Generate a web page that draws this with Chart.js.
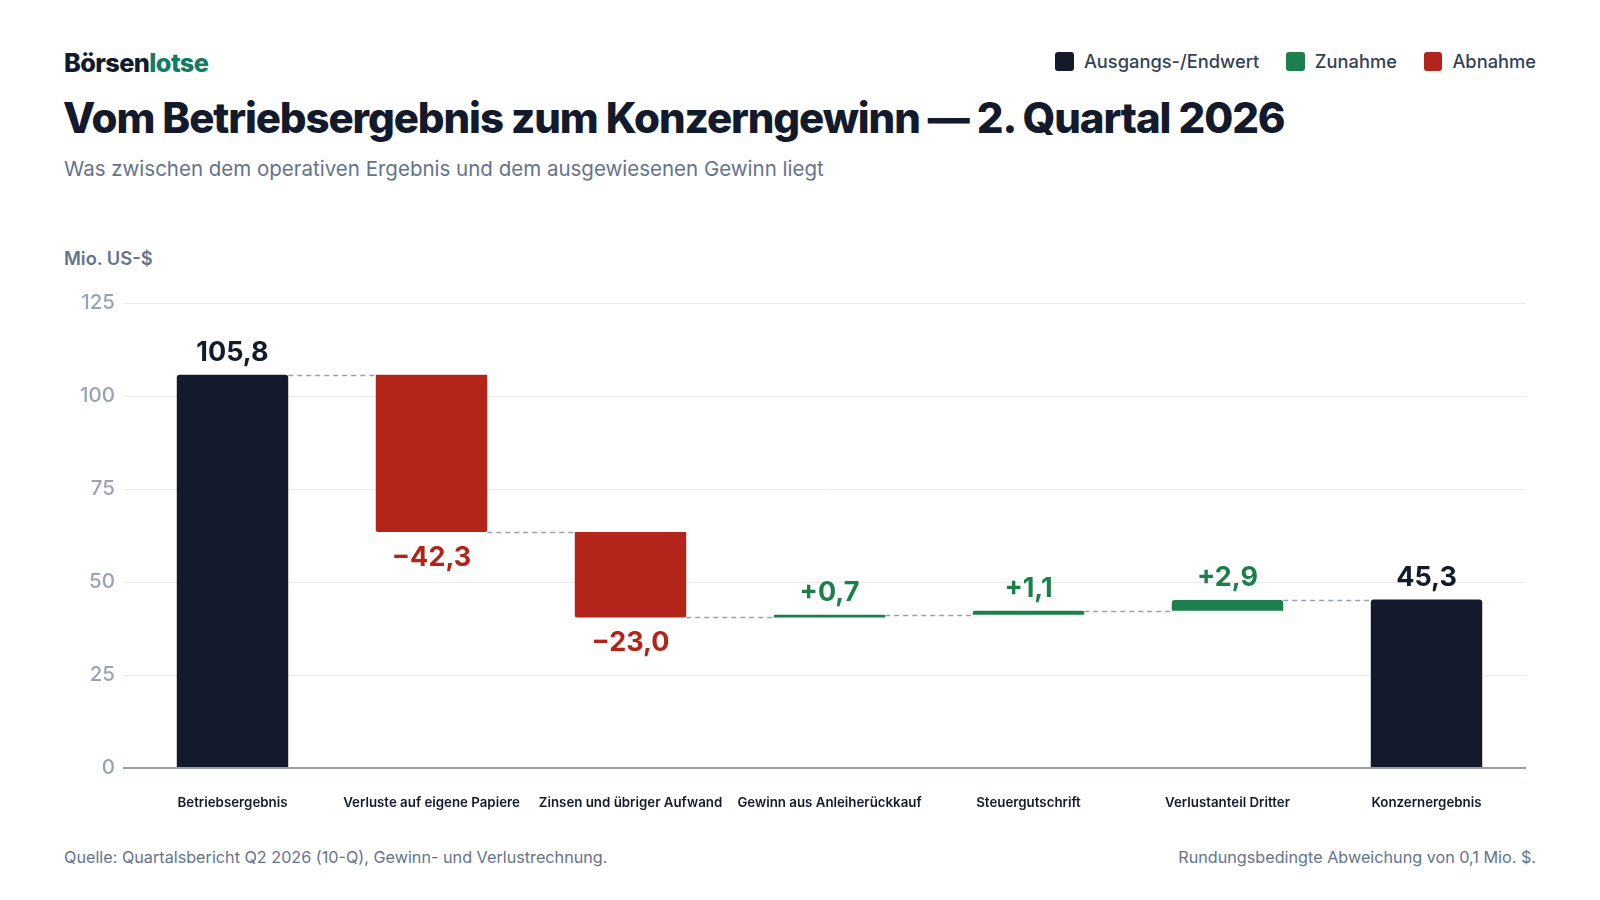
<!DOCTYPE html>
<html>
<head>
<meta charset="utf-8">
<script src="https://cdn.jsdelivr.net/npm/chart.js@4.4.1/dist/chart.umd.min.js"></script>
<style>
  html, body { margin:0; padding:0; background:#ffffff; }
  body { width:1600px; height:900px; position:relative; font-family:Inter, "Noto Sans", sans-serif; overflow:hidden; }
  .abs { position:absolute; line-height:1; white-space:nowrap; }
  #brand { left:64px; top:50px; font-size:25.3px; font-weight:800; letter-spacing:-0.6px; color:#121a2b; }
  #brand span { color:#137a68; }
  #title { left:63px; top:97px; font-size:42px; font-weight:800; letter-spacing:-1.1px; color:#121a2b; }
  #subtitle { left:64px; top:159px; font-size:20.5px; font-weight:400; color:#64748b; }
  #unit { left:64px; top:249px; font-size:18.3px; font-weight:600; color:#64748b; }
  #legend { right:64px; top:52px; display:flex; gap:27px; font-size:18.3px; font-weight:500; color:#334155; }
  #legend .it { display:flex; align-items:center; gap:10px; }
  #legend .sw { width:18.5px; height:18.5px; border-radius:3px; display:inline-block; }
  #src { left:64px; top:849px; font-size:16.2px; color:#64748b; }
  #note { right:64px; top:849px; font-size:16.2px; color:#64748b; }
  #wrap { position:absolute; left:63px; top:283px; width:1473px; height:553px; }
</style>
</head>
<body>
<div id="brand" class="abs">Börsen<span>lotse</span></div>
<div id="title" class="abs">Vom Betriebsergebnis zum Konzerngewinn — 2. Quartal 2026</div>
<div id="subtitle" class="abs">Was zwischen dem operativen Ergebnis und dem ausgewiesenen Gewinn liegt</div>
<div id="unit" class="abs">Mio. US-$</div>
<div id="legend" class="abs">
  <div class="it"><span class="sw" style="background:#121a2b"></span>Ausgangs-/Endwert</div>
  <div class="it"><span class="sw" style="background:#1c7f4d"></span>Zunahme</div>
  <div class="it"><span class="sw" style="background:#b3241b"></span>Abnahme</div>
</div>
<div id="wrap"><canvas id="c"></canvas></div>
<div id="src" class="abs">Quelle: Quartalsbericht Q2 2026 (10-Q), Gewinn- und Verlustrechnung.</div>
<div id="note" class="abs">Rundungsbedingte Abweichung von 0,1 Mio. $.</div>
<script>
const categories = ["Betriebsergebnis", "Verluste auf eigene Papiere", "Zinsen und übriger Aufwand", "Gewinn aus Anleiherückkauf", "Steuergutschrift", "Verlustanteil Dritter", "Konzernergebnis"];
const values = [105.8, -42.3, -23.0, 0.7, 1.1, 2.9, 45.3];
const kinds = ["total", "delta", "delta", "delta", "delta", "delta", "total"];
const yTicks = [0, 25, 50, 75, 100, 125];

const COL = { total:"#121a2b", up:"#1c7f4d", down:"#b3241b" };
const LBL = { total:"#121a2b", up:"#1a7f4b", down:"#b42318" };

// floating ranges
const ranges = [];
const levels = [];
let cum = 0;
for (let i = 0; i < values.length; i++) {
  if (kinds[i] === "total") { ranges.push([0, values[i]]); cum = values[i]; }
  else { ranges.push([cum, cum + values[i]]); cum = cum + values[i]; }
  levels.push(cum);
}
const kindOf = i => kinds[i] === "total" ? "total" : (values[i] >= 0 ? "up" : "down");
const fmt = (v, i) => {
  const s = Math.abs(v).toFixed(1).replace(".", ",");
  if (kinds[i] === "total") return s;
  return (v >= 0 ? "+" : "\u2212") + s;
};

const overlay = {
  id: "overlay",
  afterDatasetsDraw(chart) {
    const { ctx } = chart;
    const meta = chart.getDatasetMeta(0);
    const y = chart.scales.y;
    ctx.save();
    // connectors
    ctx.strokeStyle = "#9aa1b0";
    ctx.lineWidth = 1.5;
    ctx.setLineDash([5, 4]);
    for (let i = 0; i < meta.data.length - 1; i++) {
      const a = meta.data[i], b = meta.data[i + 1];
      const py = Math.round(y.getPixelForValue(levels[i])) + 0.5;
      ctx.beginPath();
      ctx.moveTo(a.x + a.width / 2, py);
      ctx.lineTo(b.x - b.width / 2, py);
      ctx.stroke();
    }
    ctx.setLineDash([]);
    // labels
    ctx.font = "700 27px Inter";
    ctx.textAlign = "center";
    for (let i = 0; i < meta.data.length; i++) {
      const el = meta.data[i];
      const k = kindOf(i);
      ctx.fillStyle = LBL[k];
      const hi = Math.max(ranges[i][0], ranges[i][1]);
      const lo = Math.min(ranges[i][0], ranges[i][1]);
      if (k === "down") {
        ctx.textBaseline = "top";
        ctx.fillText(fmt(values[i], i), el.x, y.getPixelForValue(lo) + 12);
      } else {
        ctx.textBaseline = "alphabetic";
        ctx.fillText(fmt(values[i], i), el.x, y.getPixelForValue(hi) - 13.5);
      }
    }
    ctx.restore();
  }
};

new Chart(document.getElementById("c"), {
  type: "bar",
  data: {
    labels: categories,
    datasets: [{
      data: ranges,
      backgroundColor: categories.map((_, i) => COL[kindOf(i)]),
      borderSkipped: false,
      borderRadius: categories.map((_, i) => kindOf(i) === "down"
        ? { topLeft:0, topRight:0, bottomLeft:2, bottomRight:2 }
        : { topLeft:3, topRight:3, bottomLeft:0, bottomRight:0 }),
      categoryPercentage: 1,
      barPercentage: 0.56
    }]
  },
  options: {
    responsive: true,
    maintainAspectRatio: false,
    animation: false,
    layout: { padding: { top: 6, right: 10, left: 0, bottom: 6 } },
    plugins: { legend: { display: false }, tooltip: { enabled: false } },
    scales: {
      x: {
        grid: { display: false },
        border: { display: false },
        ticks: { color: "#121a2b", font: { family: "Inter", size: 13.3, weight: 600 }, padding: 19, maxRotation: 0, autoSkip: false }
      },
      y: {
        min: 0, max: 125,
        afterFit(s) { s.width = 70; },
        afterBuildTicks(s) { s.ticks = yTicks.map(v => ({ value: v })); },
        border: { display: false },
        grid: {
          color: c => c.tick && c.tick.value === 0 ? "#949cb0" : "#e9ebef",
          lineWidth: c => c.tick && c.tick.value === 0 ? 2 : 1,
          tickLength: 10,
          drawTicks: true
        },
        ticks: { color: "#9aa3b5", font: { family: "Inter", size: 20.5, weight: 500 }, padding: 8 }
      }
    }
  },
  plugins: [overlay]
});
</script>
</body>
</html>
